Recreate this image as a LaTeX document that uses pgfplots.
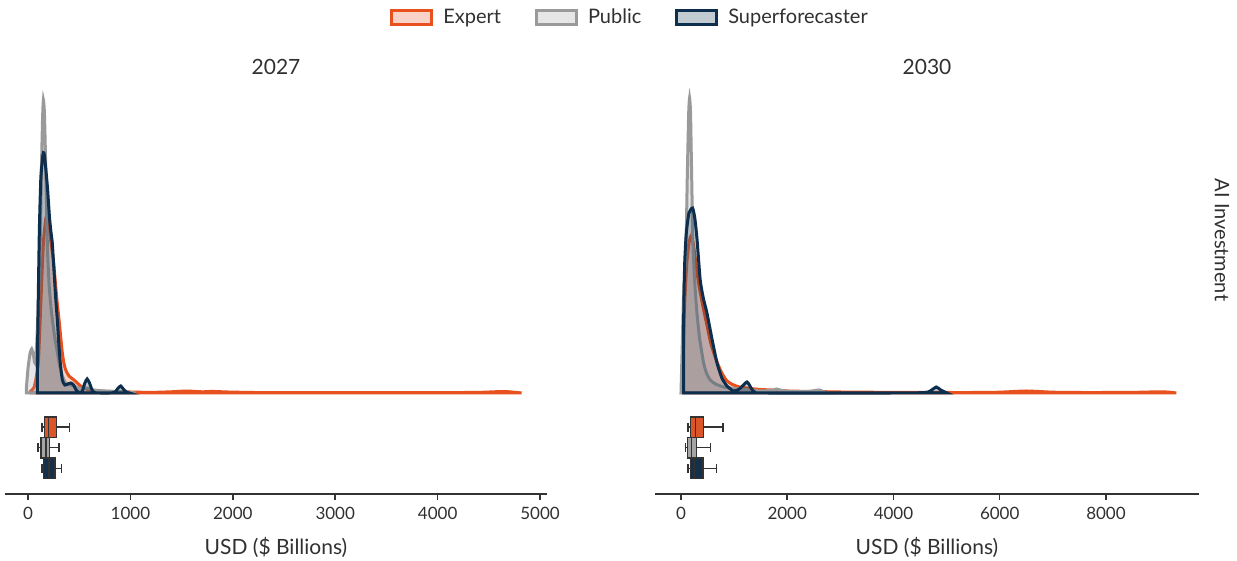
\documentclass[border=0pt]{standalone}
\usepackage{fontspec}
\setmainfont{Lato}
\usepackage{pgfplots}
\pgfplotsset{compat=1.18}
\usepgfplotslibrary{statistics}
\definecolor{expert}{HTML}{E8501E}
\definecolor{public}{HTML}{9A9A9A}
\definecolor{super}{HTML}{0E2E4D}
\definecolor{expertbox}{HTML}{DA5628}
\definecolor{publicbox}{HTML}{A5A5A5}
\definecolor{superbox}{HTML}{14304B}
\definecolor{edge}{HTML}{333333}
\definecolor{txt}{HTML}{303030}
\pgfplotsset{
  panel/.style={
    anchor=south west, scale only axis,
    height=202.5pt,
    ymin=-101, ymax=304,
    enlargelimits=false,
    axis x line=bottom, axis y line=none,
    axis line style={-, line width=1pt, color=edge},
    tick style={line width=0.75pt, color=edge},
    tick align=outside, major tick length=3pt,
    ytick=\empty,
    clip=false,
    boxplot/draw direction=x,
    /pgf/number format/1000 sep={},
    /pgf/number format/assume math mode=true,
    xticklabel style={font=\fontsize{8.5}{10}\selectfont, text=txt},
    xlabel={USD (\$ Billions)},
    xlabel style={font=\fontsize{10.5}{12}\selectfont, text=txt, yshift=-2pt},
    title style={font=\fontsize{10.5}{12}\selectfont, text=txt, yshift=-2.5pt},
  },
  dens/.style={line width=1.5pt, draw=#1, fill=#1, fill opacity=0.25, smooth, tension=0.35},
  bx/.style={fill=#1, draw=edge, line width=0.75pt, solid, forget plot},
}
\begin{document}
\begin{tikzpicture}[x=1pt,y=1pt]
\useasboundingbox (0,0) rectangle (618.5,280.5);
% ---------------- 2027 ----------------
\begin{axis}[panel, at={(2.5pt,33.5pt)}, width=271pt,
  xmin=-225, xmax=5068, xtick={0,1000,2000,3000,4000,5000},
  title={2027},
  legend columns=3,
  legend style={at={(1.155,1.176)}, anchor=center, draw=none, fill=none,
    font=\fontsize{10}{12}\selectfont, text=txt,
    /tikz/every odd column/.append style={column sep=3pt},
    /tikz/every even column/.append style={column sep=15pt}},
  legend image code/.code={\draw[#1] (0pt,-3.5pt) rectangle (20pt,3.5pt);},
]
\addplot[dens=expert] coordinates {
(26,0) (26,2) (60,6) (100,30) (125,90) (150,150) (175,175) (200,168) (225,150)
(250,130) (270,107) (285,90) (303,73) (320,55) (335,40) (350,30) (368,23)
(400,17) (449,13) (514,7) (570,4) (650,2.5) (800,1.5) (1000,1) (1200,0.6)
(1400,1.2) (1550,2) (1700,1.2) (1800,1.6) (1950,1) (2200,0.5) (2600,0.4)
(3000,0.3) (3500,0.3) (4000,0.4) (4400,0.6) (4650,1.5) (4820,0)
} \closedcycle;
\addlegendentry{Expert}
\addplot[dens=public] coordinates {
(-16,0) (-16,5) (0,25) (20,40) (36,44) (52,38) (68,30) (85,50) (100,90)
(117,140) (130,220) (142,275) (150,293) (160,280) (172,230) (189,147)
(205,110) (220,90) (238,73) (262,55) (287,40) (310,27) (335,17) (370,10)
(420,8) (470,6) (520,4) (580,5) (640,3) (750,2) (900,1.5) (1000,0.5) (1050,0)
} \closedcycle;
\addlegendentry{Public}
\addplot[dens=super] coordinates {
(91,0) (91,20) (95,60) (110,160) (125,215) (145,238) (156,240) (170,228)
(190,205) (210,175) (225,160) (237,150) (255,120) (270,95) (286,73) (300,50)
(315,30) (335,13) (360,8) (390,9) (417,10) (445,8) (470,3) (503,0.5) (530,2)
(555,10) (577,14) (600,10) (625,3) (645,0.5) (700,0) (800,0) (850,1)
(880,5) (905,7) (930,4) (960,1) (988,0)
} \closedcycle;
\addlegendentry{Superforecaster}
\addplot[bx=expertbox, boxplot prepared={lower whisker=134, lower quartile=159,
  median=198, upper quartile=276, upper whisker=407, draw position=-34.2,
  box extend=20.5, whisker extend=9}] coordinates {};
\addplot[bx=publicbox, boxplot prepared={lower whisker=95, lower quartile=127,
  median=173, upper quartile=212, upper whisker=303, draw position=-54.7,
  box extend=20.5, whisker extend=9}] coordinates {};
\addplot[bx=superbox, boxplot prepared={lower whisker=134, lower quartile=153,
  median=205, upper quartile=264, upper whisker=329, draw position=-75.3,
  box extend=20.5, whisker extend=9}] coordinates {};
\end{axis}
% ---------------- 2030 ----------------
\begin{axis}[panel, at={(327.5pt,33.5pt)}, width=272pt,
  xmin=-489, xmax=9751, xtick={0,2000,4000,6000,8000},
  title={2030},
]
\addplot[dens=expert] coordinates {
(40,0) (45,40) (70,90) (110,130) (150,150) (188,157) (230,150) (280,130)
(330,110) (400,90) (480,70) (560,50) (650,35) (750,22) (850,13) (950,9)
(1100,6) (1300,4.5) (1500,3.5) (1700,3) (2000,2) (2500,1.5) (3000,1)
(3500,0.8) (4000,0.6) (4500,0.6) (5000,0.5) (5500,0.5) (6000,0.8) (6500,2)
(7000,0.8) (7500,0.5) (8000,0.5) (8500,0.6) (9000,1.2) (9200,0.8) (9323,0)
} \closedcycle;
\addplot[dens=public] coordinates {
(0,0) (20,40) (50,100) (94,147) (120,220) (145,280) (162,295) (180,280)
(200,220) (226,147) (260,110) (301,80) (350,55) (426,30) (480,20) (551,13)
(650,9) (800,6) (950,5) (1100,4) (1300,3) (1500,2) (1700,2.5) (1800,4)
(1900,2.5) (2100,1.5) (2400,1.5) (2600,3) (2700,1) (2750,0)
} \closedcycle;
\addplot[dens=super] coordinates {
(50,0) (52,80) (70,130) (100,160) (150,180) (218,185) (260,175) (300,155)
(362,113) (420,95) (489,80) (580,55) (678,30) (770,15) (866,7) (990,2)
(1100,4) (1242,11) (1330,4) (1400,0.5) (1600,0) (4000,0) (4600,0.5)
(4720,3) (4805,6) (4890,3) (5007,0)
} \closedcycle;
\addplot[bx=expertbox, boxplot prepared={lower whisker=132, lower quartile=181,
  median=275, upper quartile=425, upper whisker=790, draw position=-34.2,
  box extend=20.5, whisker extend=9}] coordinates {};
\addplot[bx=publicbox, boxplot prepared={lower whisker=87, lower quartile=124,
  median=200, upper quartile=294, upper whisker=552, draw position=-54.7,
  box extend=20.5, whisker extend=9}] coordinates {};
\addplot[bx=superbox, boxplot prepared={lower whisker=132, lower quartile=175,
  median=250, upper quartile=414, upper whisker=665, draw position=-75.3,
  box extend=20.5, whisker extend=9}] coordinates {};
\end{axis}
\node[rotate=-90, font=\fontsize{10}{12}\selectfont, text=txt] at (611,160.5) {AI Investment};
\end{tikzpicture}
\end{document}
